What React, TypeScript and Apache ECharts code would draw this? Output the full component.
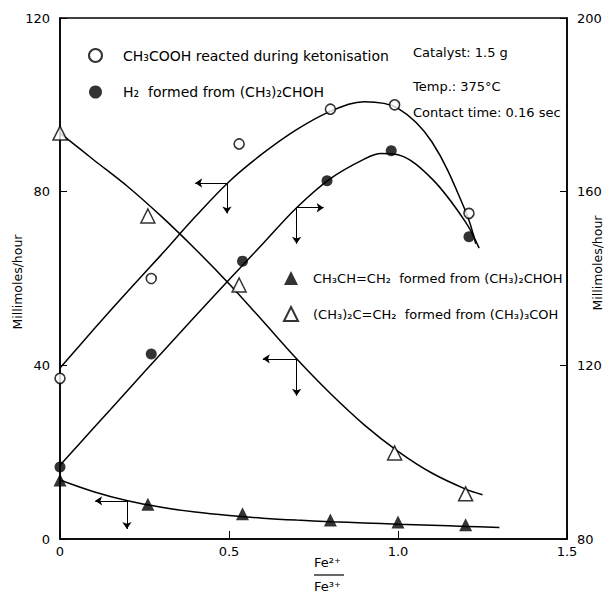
import React, { useEffect, useRef } from "react";
import * as echarts from "echarts";

// ---- data ----
// ratio Fe2+/Fe3+ of each measured point
const xAcetic = [0, 0.27, 0.53, 0.8, 0.99, 1.21];
const yAcetic = [37, 60, 91, 99, 100, 75]; // left axis
const xH2 = [0, 0.27, 0.54, 0.79, 0.98, 1.21];
const yH2 = [96.6, 122.6, 144, 162.5, 169.4, 149.6]; // right axis
const xPropene = [0, 0.26, 0.54, 0.8, 1.0, 1.2];
const yPropene = [13.6, 8.0, 5.8, 4.4, 3.9, 3.3]; // left axis
const xIsobutene = [0, 0.26, 0.53, 0.99, 1.2];
const yIsobutene = [93.5, 74.4, 58.5, 19.8, 10.4]; // left axis

// fitted curves (as drawn in the reference)
const cAceticX = [0, 0.1, 0.2, 0.3, 0.4, 0.5, 0.6, 0.7, 0.8, 0.9, 1.0, 1.1, 1.2, 1.23];
const cAceticY = [39.4, 48.3, 57.0, 65.5, 74.2, 82.3, 88.8, 94.3, 98.5, 100.7, 99.2, 91.5, 75.5, 68];
const cH2X = [0, 0.1, 0.2, 0.3, 0.4, 0.5, 0.6, 0.7, 0.8, 0.9, 0.95, 1.0, 1.1, 1.2, 1.24];
const cH2Y = [97, 105.6, 114.2, 122.8, 131.3, 139.7, 148, 156.3, 163, 167.5, 168.8, 168.5, 163, 153, 147];
const cPropX = [0, 0.1, 0.2, 0.3, 0.4, 0.5, 0.6, 0.7, 0.8, 0.9, 1.0, 1.1, 1.2, 1.3];
const cPropY = [13.6, 10.9, 8.8, 7.3, 6.2, 5.4, 4.8, 4.35, 4.0, 3.7, 3.4, 3.15, 2.9, 2.65];
const cIsoX = [0, 0.1, 0.2, 0.3, 0.4, 0.5, 0.6, 0.7, 0.8, 0.9, 1.0, 1.1, 1.2, 1.25];
const cIsoY = [93.5, 87.3, 81.2, 74.3, 66.8, 58.8, 50.2, 41.5, 33.5, 26.3, 20.2, 15.2, 11.5, 10.2];

// axis-pointer arrows: [cornerX, cornerY, arrowX, downY]
const arrowAcetic = [0.494, 82, 0.4, 75];
const arrowH2 = [0.7, 156.3, 0.78, 148];
const arrowIso = [0.7, 41.5, 0.6, 33];
const arrowProp = [0.198, 8.8, 0.104, 2.3];

const xTicks = ["0", "0.5", "1.0", "1.5"];
const nameAcetic = "CH₃COOH reacted during ketonisation";
const nameH2 = "H₂  formed from (CH₃)₂CHOH";
const nameProp = "CH₃CH=CH₂  formed from (CH₃)₂CHOH";
const nameIso = "(CH₃)₂C=CH₂  formed from (CH₃)₃COH";
const yName = "Millimoles/hour";

const FONT = "DejaVu Sans";

const zip = (xs: number[], ys: number[]) => xs.map((x, i) => [x, ys[i]]);

const arrowMark = (a: number[]) => ({
  silent: true,
  symbol: ["none", "arrow"],
  symbolSize: 7,
  label: { show: false },
  lineStyle: { color: "#000", width: 1, type: "solid" },
  data: [
    [
      { coord: [a[0], a[1]], symbol: "none" },
      { coord: [a[2], a[1]], symbol: "arrow" },
    ],
    [
      { coord: [a[0], a[1]], symbol: "none" },
      { coord: [a[0], a[3]], symbol: "arrow" },
    ],
  ],
});

const curve = (xs: number[], ys: number[], yIdx: number, arrow: number[]) => ({
  type: "line",
  yAxisIndex: yIdx,
  data: zip(xs, ys),
  smooth: 0.35,
  showSymbol: false,
  symbol: "none",
  silent: true,
  lineStyle: { color: "#000", width: 1.5 },
  markLine: arrowMark(arrow),
  z: 1,
});

export default function App() {
  const ref = useRef<HTMLDivElement>(null);
  useEffect(() => {
    if (!ref.current) return;
    const chart = echarts.init(ref.current, null, { renderer: "svg" });
    const axisLine = { show: true, lineStyle: { color: "#000", width: 1.5 } };
    const labelStyle = { color: "#000", fontFamily: FONT, fontSize: 13 };
    chart.setOption({
      animation: false,
      backgroundColor: "#fff",
      grid: {
        left: 60,
        right: 39,
        top: 18,
        bottom: 65,
        containLabel: false,
        outerBoundsMode: "none",
        show: true,
        borderColor: "#000",
        borderWidth: 1.5,
        backgroundColor: "transparent",
      },
      xAxis: {
        type: "value",
        min: 0,
        max: 1.5,
        interval: 0.5,
        axisLine,
        splitLine: { show: false },
        axisTick: { show: true, inside: true, length: 8, lineStyle: { color: "#000" } },
        axisLabel: {
          ...labelStyle,
          margin: 6,
          formatter: (v: number) => xTicks[Math.round(v * 2)] ?? "",
        },
      },
      yAxis: [
        {
          type: "value",
          min: 0,
          max: 120,
          interval: 40,
          position: "left",
          axisLine,
          splitLine: { show: false },
          axisTick: { show: true, inside: true, length: 7, lineStyle: { color: "#000" } },
          axisLabel: { ...labelStyle, margin: 10 },
        },
        {
          type: "value",
          min: 80,
          max: 200,
          interval: 40,
          position: "right",
          axisLine,
          splitLine: { show: false },
          axisTick: { show: true, inside: true, length: 7, lineStyle: { color: "#000" } },
          axisLabel: { ...labelStyle, margin: 10 },
        },
      ],
      legend: [
        {
          data: [nameAcetic, nameH2],
          left: 83,
          top: 43,
          orient: "vertical",
          itemWidth: 13,
          itemHeight: 13,
          itemGap: 22,
          selectedMode: false,
          textStyle: { ...labelStyle, fontSize: 14, padding: [0, 0, 0, 16] },
        },
        {
          data: [nameProp, nameIso],
          left: 278,
          top: 266,
          orient: "vertical",
          itemWidth: 14,
          itemHeight: 14,
          itemGap: 21,
          selectedMode: false,
          textStyle: { ...labelStyle, fontSize: 13, padding: [0, 0, 0, 10] },
        },
      ],
      graphic: [
        {
          type: "text",
          x: 17,
          y: 282,
          rotation: Math.PI / 2,
          style: { text: yName, font: `12.5px ${FONT}`, fill: "#000", align: "center", verticalAlign: "middle" },
        },
        {
          type: "text",
          x: 597,
          y: 263,
          rotation: Math.PI / 2,
          style: { text: yName, font: `12.5px ${FONT}`, fill: "#000", align: "center", verticalAlign: "middle" },
        },
        { type: "text", left: 413, top: 46, style: { text: "Catalyst: 1.5 g", font: `13px ${FONT}`, fill: "#000" } },
        { type: "text", left: 413, top: 80, style: { text: "Temp.: 375°C", font: `13px ${FONT}`, fill: "#000" } },
        { type: "text", left: 413, top: 106, style: { text: "Contact time: 0.16 sec", font: `13px ${FONT}`, fill: "#000" } },
        { type: "text", left: 314, top: 556, style: { text: "Fe²⁺", font: `13px ${FONT}`, fill: "#000" } },
        { type: "line", shape: { x1: 314, y1: 575, x2: 344, y2: 575 }, style: { stroke: "#000", lineWidth: 1.2 } },
        { type: "text", left: 314, top: 580, style: { text: "Fe³⁺", font: `13px ${FONT}`, fill: "#000" } },
      ],
      series: [
        curve(cAceticX, cAceticY, 0, arrowAcetic),
        curve(cH2X, cH2Y, 1, arrowH2),
        curve(cPropX, cPropY, 0, arrowProp),
        curve(cIsoX, cIsoY, 0, arrowIso),
        {
          type: "scatter",
          name: nameAcetic,
          yAxisIndex: 0,
          data: zip(xAcetic, yAcetic),
          symbol: "circle",
          symbolSize: 10,
          itemStyle: { color: "#fff", borderColor: "#000", borderWidth: 1.6 },
          z: 3,
        },
        {
          type: "scatter",
          name: nameH2,
          yAxisIndex: 1,
          data: zip(xH2, yH2),
          symbol: "circle",
          symbolSize: 11,
          itemStyle: { color: "#000", borderColor: "#000", borderWidth: 0 },
          z: 3,
        },
        {
          type: "scatter",
          name: nameProp,
          yAxisIndex: 0,
          data: zip(xPropene, yPropene),
          symbol: "triangle",
          symbolSize: 13,
          itemStyle: { color: "#000", borderColor: "#000", borderWidth: 0 },
          z: 3,
        },
        {
          type: "scatter",
          name: nameIso,
          yAxisIndex: 0,
          data: zip(xIsobutene, yIsobutene),
          symbol: "triangle",
          symbolSize: 14,
          itemStyle: { color: "#fff", borderColor: "#000", borderWidth: 1.5 },
          z: 3,
        },
      ],
    });
    return () => chart.dispose();
  }, []);
  return <div ref={ref} style={{ width: 606, height: 604, position: "absolute", left: 0, top: 0 }} />;
}
